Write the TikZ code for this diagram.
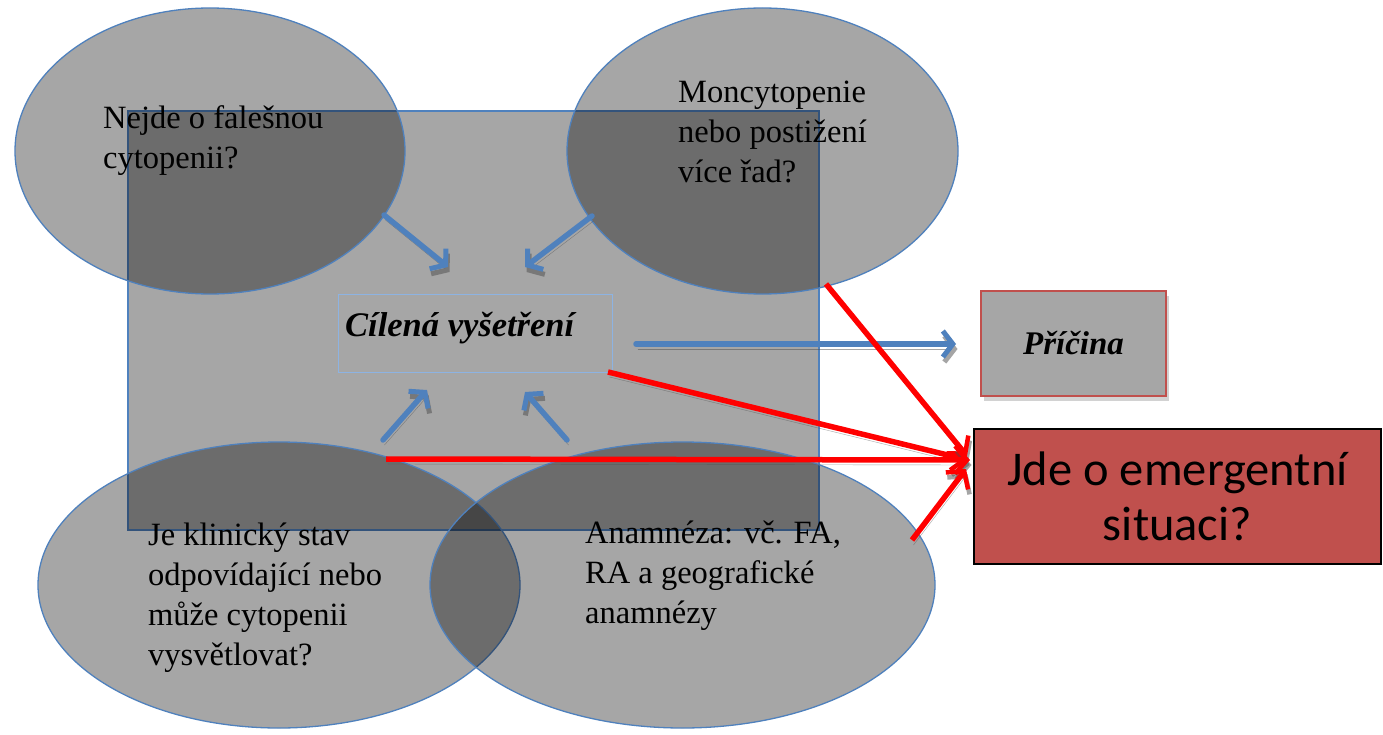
\documentclass[tikz,border=0pt]{standalone}
\usepackage{fontspec}
\setmainfont{Liberation Serif}
\newfontfamily\calib{Carlito}
\usetikzlibrary{arrows.meta,shapes.geometric,shadows}
\definecolor{bluel}{HTML}{4F81BD}
\definecolor{lightb}{HTML}{8DB3E2}
\definecolor{redbox}{HTML}{C0504D}
\definecolor{grayfill}{HTML}{A6A6A6}
\begin{document}
\begin{tikzpicture}[x=1pt,y=-1pt,
  blob/.style={ellipse, draw=bluel, line width=1.3pt, fill=black, fill opacity=0.35, inner sep=0pt},
  frameb/.style={rectangle, draw=bluel, line width=1.2pt, fill=black, fill opacity=0.35, inner sep=0pt},
  etext/.style={anchor=base west, align=left, inner sep=0pt, font=\fontsize{32.5}{40}\selectfont},
  shad/.style={preaction={draw=black!70, opacity=0.5, transform canvas={shift={(1.5pt,-5pt)}}}},
  bluearrow/.style={draw=bluel, line width=5.5pt, line cap=round, shad,
     -{Straight Barb[length=10pt,width=26pt,line width=5pt]}},
  redarrow/.style={draw=red, line width=5.5pt, shad,
     -{Straight Barb[length=12pt,width=28pt,line width=4.5pt]}}
]
\useasboundingbox (0,0) rectangle (1383,735);
\fill[white] (0,0) rectangle (1383,735);

% big frame
\node[frameb, minimum width=691pt, minimum height=419pt] (frame) at (473.5,320.5) {};

% ellipses
\node[blob, minimum width=390pt, minimum height=286pt] (tl) at (210,151) {};
\node[blob, minimum width=391pt, minimum height=286pt] (tr) at (762.5,151) {};
\node[blob, minimum width=482pt, minimum height=286pt] (bl) at (279,585) {};
\node[blob, minimum width=505pt, minimum height=286pt] (br) at (682.5,585) {};

% texts in ellipses (base = last line)
\node[etext] (tltxt) at (103,169) {Nejde o falešnou\\cytopenii?};
\node[etext] (trtxt) at (678,183) {Moncytopenie\\nebo postižení\\více řad?};
\node[etext] (bltxt) at (148,665) {Je klinický stav\\odpovídající nebo\\může cytopenii\\vysvětlovat?};
\node[etext] (brtxt) at (585,623) {Anamnéza: vč. FA,\\RA a geografické\\anamnézy};

% central box
\node[rectangle, draw=lightb, line width=1pt, minimum width=274pt, minimum height=78pt, inner sep=0pt] (cil) at (475,333) {};
\node[anchor=base west, inner sep=0pt, font=\fontsize{34.5}{40}\selectfont\bfseries\itshape] (ciltxt) at (345,336) {Cílená vyšetření};

% Pricina box
\node[rectangle, draw=redbox, line width=1.2pt, fill=grayfill, minimum width=185pt, minimum height=105pt,
  drop shadow={shadow xshift=3pt, shadow yshift=-5pt, opacity=0.35},
  font=\fontsize{33}{38}\selectfont\bfseries\itshape] (pric) at (1073.5,343.5) {Příčina};

% emergent box
\node[rectangle, draw=black, line width=2pt, fill=redbox, minimum width=407pt, minimum height=135pt,
  align=center, font=\calib\fontsize{48.5}{55}\selectfont] (em) at (1177.5,496.5) {Jde o emergentní\\situaci?};

% arrow end coordinates
\coordinate (a1s) at (384,215);  \coordinate (a1e) at (448,267);
\coordinate (a2s) at (592,216);  \coordinate (a2e) at (525,267);
\coordinate (a3s) at (383,440);  \coordinate (a3e) at (427,390);
\coordinate (a4s) at (567,440);  \coordinate (a4e) at (525,392);
\coordinate (a5s) at (636,344);  \coordinate (a5e) at (956,344);

\coordinate (r1s) at (826,284);  \coordinate (r1e) at (967,456);
\coordinate (r2s) at (608,372);  \coordinate (r2e) at (968,460);
\coordinate (r3s) at (386,459);  \coordinate (r3e) at (970,460);
\coordinate (r4s) at (912,540);  \coordinate (r4e) at (966,469);

% blue arrows
\draw[bluearrow] (a1s) -- (a1e);
\draw[bluearrow] (a2s) -- (a2e);
\draw[bluearrow] (a3s) -- (a3e);
\draw[bluearrow] (a4s) -- (a4e);
\draw[bluearrow] (a5s) -- (a5e);

% red arrows
\draw[redarrow] (r1s) -- (r1e);
\draw[redarrow] (r2s) -- (r2e);
\draw[redarrow] (r3s) -- (r3e);
\draw[redarrow] (r4s) -- (r4e);
\end{tikzpicture}
\end{document}
